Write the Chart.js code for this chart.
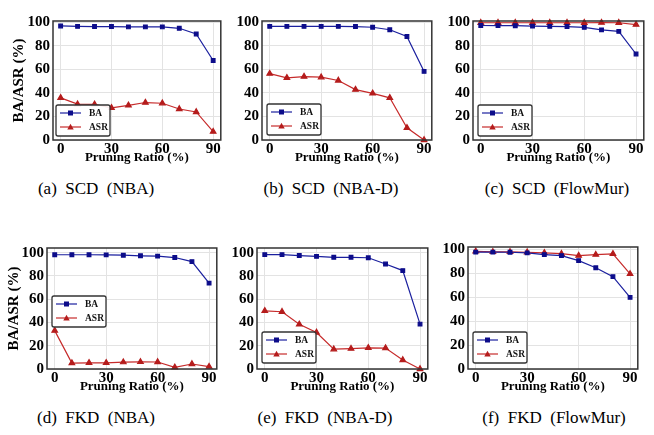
<!DOCTYPE html>
<html><head><meta charset="utf-8">
<script src="https://cdn.jsdelivr.net/npm/chart.js@4.4.1/dist/chart.umd.min.js"></script>
<style>
html,body{margin:0;padding:0;background:#fff}
body{width:654px;height:435px;position:relative;overflow:hidden}
canvas{position:absolute}
.cap{position:absolute;font-family:"Liberation Serif","Times New Roman",Times,serif;font-size:17px;color:#000;white-space:pre;transform:translate(-50%,-50%);line-height:1}
</style></head><body>
<div class="cap" style="left:96px;top:188px">(a)  SCD  (NBA)</div>
<div class="cap" style="left:331px;top:188px">(b)  SCD  (NBA-D)</div>
<div class="cap" style="left:557px;top:188px">(c)  SCD  (FlowMur)</div>
<div class="cap" style="left:96px;top:417px">(d)  FKD  (NBA)</div>
<div class="cap" style="left:325px;top:417px">(e)  FKD  (NBA-D)</div>
<div class="cap" style="left:554px;top:417px">(f)  FKD  (FlowMur)</div>
<script>
// ---- data ----
const ratios = [0, 10, 20, 30, 40, 50, 60, 70, 80, 90];
const xTicks = [0, 30, 60, 90];
const yTicks = [0, 20, 40, 60, 80, 100];
const seriesNames = ['BA', 'ASR'];
const xTitle = 'Pruning Ratio (%)';
const yTitle = 'BA/ASR (%)';

const scdNbaBA   = [96.8, 96.4, 96.3, 96.3, 96.0, 96.0, 96.0, 94.8, 90.0, 67.5];
const scdNbaASR  = [35.8, 30.4, 30.3, 27.3, 29.4, 31.8, 31.2, 26.3, 23.8, 7.1];
const scdNbadBA  = [96.4, 96.4, 96.4, 96.4, 96.4, 96.3, 95.7, 93.6, 87.8, 58.2];
const scdNbadASR = [56.3, 52.8, 53.8, 53.3, 50.5, 42.8, 39.6, 35.8, 10.3, 0.0];
const scdFlowBA  = [97.2, 97.1, 97.0, 96.6, 96.4, 96.3, 95.6, 93.5, 92.2, 73.0];
const scdFlowASR = [99.5, 99.5, 99.5, 99.5, 99.5, 99.5, 99.5, 99.6, 99.5, 98.0];
const fkdNbaBA   = [98.2, 98.2, 98.2, 98.1, 97.8, 97.3, 97.0, 95.8, 92.3, 73.8];
const fkdNbaASR  = [33.0, 5.1, 5.3, 5.3, 5.9, 6.1, 6.0, 1.4, 4.3, 2.0];
const fkdNbadBA  = [98.3, 98.3, 97.5, 96.8, 96.0, 96.0, 95.6, 90.2, 84.6, 38.6];
const fkdNbadASR = [50.0, 49.2, 38.4, 31.4, 17.0, 17.5, 18.2, 18.0, 7.8, 0.0];
const fkdFlowBA  = [97.7, 97.7, 97.6, 97.1, 95.6, 94.8, 90.6, 84.6, 77.2, 59.9];
const fkdFlowASR = [98.4, 97.9, 97.9, 97.6, 97.1, 96.4, 94.8, 95.6, 96.3, 79.5];

// ---- layout (chart area boxes, legend placement) ----
const panels = [
  {ba: scdNbaBA,  asr: scdNbaASR,  area: [53, 13, 222, 140],  ymax: 101, yt: true,  wy: 53, tp: 10, leg: {dx: 3, bottom: 4}},
  {ba: scdNbadBA, asr: scdNbadASR, area: [262, 13, 433, 140], ymax: 101, yt: false, wy: 40, leg: {dx: 5, bottom: 5}},
  {ba: scdFlowBA, asr: scdFlowASR, area: [473, 13, 645, 140], ymax: 101, yt: false, wy: 40, leg: {dx: 5, bottom: 4}},
  {ba: fkdNbaBA,  asr: fkdNbaASR,  area: [47, 240, 218, 369], ymax: 104, yt: true,  wy: 47, tp: 5, leg: {dx: 5, top: 48}},
  {ba: fkdNbadBA, asr: fkdNbadASR, area: [257, 240, 429, 369],ymax: 104, yt: false, wy: 40, leg: {dx: 5, bottom: 6}},
  {ba: fkdFlowBA, asr: fkdFlowASR, area: [468, 239, 639, 369],ymax: 102, yt: false, wy: 40, leg: {dx: 5, bottom: 6}}
];
const PAD = 4, HX = 30;
const BLUE = '#1a1f9e', RED = '#c62a2a';
const serif = '"Liberation Serif", "Times New Roman", Times, serif';

const framePlugin = {
  id: 'frame',
  afterDraw(chart) {
    const {ctx, chartArea: a} = chart;
    ctx.save();
    ctx.strokeStyle = '#333';
    ctx.lineWidth = 1.5;
    ctx.strokeRect(a.left, a.top, a.right - a.left, a.bottom - a.top);
    ctx.restore();
  }
};
const legendPlugin = {
  id: 'boxLegend',
  afterDraw(chart, args, opts) {
    const {ctx, chartArea: a} = chart;
    const w = 54, h = 31;
    const x = a.left + opts.dx;
    const y = opts.top !== undefined ? a.top + opts.top : a.bottom - opts.bottom - h;
    ctx.save();
    ctx.fillStyle = 'rgba(255,255,255,0.9)';
    ctx.strokeStyle = '#333';
    ctx.lineWidth = 1.3;
    ctx.beginPath();
    ctx.roundRect(x, y, w, h, 2);
    ctx.fill(); ctx.stroke();
    chart.data.datasets.forEach((ds, i) => {
      const cy = y + 8 + i * 14;
      ctx.strokeStyle = ds.borderColor;
      ctx.lineWidth = 1.2;
      ctx.beginPath(); ctx.moveTo(x + 4, cy); ctx.lineTo(x + 25, cy); ctx.stroke();
      ctx.fillStyle = ds.pointBackgroundColor;
      const mx = x + 14.5;
      if (ds.pointStyle === 'rect') {
        ctx.fillRect(mx - 2.5, cy - 2.5, 5, 5);
      } else {
        ctx.beginPath(); ctx.moveTo(mx, cy - 3.2); ctx.lineTo(mx + 3.2, cy + 2.4); ctx.lineTo(mx - 3.2, cy + 2.4); ctx.closePath(); ctx.fill();
      }
      ctx.fillStyle = '#111';
      ctx.font = 'bold 9.5px ' + serif;
      ctx.textBaseline = 'middle';
      ctx.textAlign = 'left';
      ctx.fillText(ds.label, x + 33, cy + 0.5);
    });
    ctx.restore();
  }
};

panels.forEach(p => {
  const [L, T, R, B] = p.area;
  const cv = document.createElement('canvas');
  const cw = p.wy + (R - L) + PAD, ch = PAD + (B - T) + HX;
  cv.width = cw; cv.height = ch;
  cv.style.left = (L - p.wy) + 'px';
  cv.style.top = (T - PAD) + 'px';
  cv.style.width = cw + 'px'; cv.style.height = ch + 'px';
  document.body.appendChild(cv);
  const mk = vals => ratios.map((r, i) => ({x: r, y: vals[i]}));
  new Chart(cv, {
    type: 'line',
    data: {
      datasets: [
        {label: seriesNames[0], data: mk(p.ba), borderColor: BLUE, backgroundColor: BLUE, pointBackgroundColor: '#0c0c8a', pointBorderColor: '#0c0c8a', pointStyle: 'rect', pointRadius: 2.6, borderWidth: 1.2, tension: 0, clip: false},
        {label: seriesNames[1], data: mk(p.asr), borderColor: RED, backgroundColor: RED, pointBackgroundColor: '#b51c1c', pointBorderColor: '#b51c1c', pointStyle: 'triangle', pointRadius: 3.2, borderWidth: 1.2, tension: 0, clip: false}
      ]
    },
    options: {
      responsive: false,
      animation: false,
      devicePixelRatio: 1,
      layout: {padding: {top: PAD, right: PAD, left: 0, bottom: 0}},
      plugins: {legend: {display: false}, tooltip: {enabled: false}, boxLegend: p.leg},
      scales: {
        x: {
          type: 'linear', min: -4.5, max: 94.5,
          afterBuildTicks: s => { s.ticks = xTicks.map(v => ({value: v})); },
          afterFit: s => { s.height = HX; },
          grid: {color: '#e3e3e3', lineWidth: 1, drawTicks: false},
          border: {display: false},
          ticks: {autoSkip: false, maxRotation: 0, padding: 0, color: '#000', font: {family: serif, weight: 'bold', size: 15}},
          title: {display: true, text: xTitle, color: '#000', padding: {top: 0, bottom: 4.2}, font: {family: serif, weight: 'bold', size: 13}}
        },
        y: {
          type: 'linear', min: 0, max: p.ymax,
          afterBuildTicks: s => { s.ticks = yTicks.map(v => ({value: v})); },
          afterFit: s => { s.width = p.wy; },
          grid: {color: '#e3e3e3', lineWidth: 1, drawTicks: false},
          border: {display: false},
          ticks: {padding: 3, color: '#000', font: {family: serif, weight: 'bold', size: 15}},
          title: {display: p.yt, text: yTitle, color: '#000', padding: {top: p.tp || 0, bottom: 0}, font: {family: serif, weight: 'bold', size: 15}}
        }
      }
    },
    plugins: [framePlugin, legendPlugin]
  });
});
</script>
</body></html>
